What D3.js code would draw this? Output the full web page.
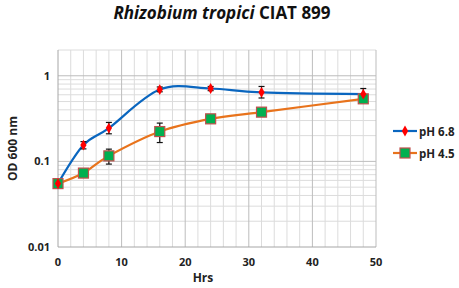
<!DOCTYPE html>
<html>
<head>
<meta charset="utf-8">
<script src="https://cdn.jsdelivr.net/npm/d3@7"></script>
<style>
  body { margin: 0; background: #fff; }
  text { font-family: "Open Sans", "DejaVu Sans", sans-serif; }
</style>
</head>
<body>
<div id="chart"></div>
<script>
// Data
const hours = [0, 4, 8, 16, 24, 32, 48];
const ph68 = [0.055, 0.155, 0.245, 0.69, 0.71, 0.64, 0.61];
const ph68Low = [0.052, 0.14, 0.21, 0.65, 0.67, 0.55, 0.58];
const ph68High = [0.058, 0.17, 0.285, 0.74, 0.75, 0.75, 0.71];
const ph45 = [0.055, 0.073, 0.116, 0.223, 0.314, 0.376, 0.538];
const ph45Low = [0.051, 0.07, 0.093, 0.166, 0.305, 0.35, 0.52];
const ph45High = [0.058, 0.076, 0.139, 0.28, 0.325, 0.41, 0.56];
const xTicks = [0, 10, 20, 30, 40, 50];
const yTicks = [0.01, 0.1, 1];

const width = 459, height = 288;
const margin = { top: 50, right: 83, bottom: 41, left: 58 };

const svg = d3.select("#chart").append("svg")
  .attr("width", width)
  .attr("height", height);

const x = d3.scaleLinear().domain([0, 50]).range([margin.left, width - margin.right]);
const y = d3.scaleLog().domain([0.01, 2]).range([height - margin.bottom, margin.top]);

// Gridlines
const minorX = d3.range(0, 51, 2).filter(d => d % 10 !== 0);
svg.append("g").selectAll("line")
  .data(minorX)
  .join("line")
  .attr("x1", d => x(d)).attr("x2", d => x(d))
  .attr("y1", y(2)).attr("y2", y(0.01))
  .attr("stroke", "#dcdcdc").attr("stroke-width", 1);

const minorY = [];
[0.01, 0.1, 1].forEach(dec => {
  for (let k = 2; k <= 9; k++) {
    if (dec * k <= 2) minorY.push(dec * k);
  }
});
svg.append("g").selectAll("line")
  .data(minorY)
  .join("line")
  .attr("x1", x(0)).attr("x2", x(50))
  .attr("y1", d => y(d)).attr("y2", d => y(d))
  .attr("stroke", "#dcdcdc").attr("stroke-width", 1);

svg.append("g").selectAll("line")
  .data(xTicks.slice(1))
  .join("line")
  .attr("x1", d => x(d)).attr("x2", d => x(d))
  .attr("y1", y(2)).attr("y2", y(0.01))
  .attr("stroke", "#bdbdbd").attr("stroke-width", 1);

svg.append("g").selectAll("line")
  .data(yTicks.slice(1))
  .join("line")
  .attr("x1", x(0)).attr("x2", x(50))
  .attr("y1", d => y(d)).attr("y2", d => y(d))
  .attr("stroke", "#bdbdbd").attr("stroke-width", 1);

// Axes lines
svg.append("line")
  .attr("x1", x(0)).attr("x2", x(0))
  .attr("y1", y(2)).attr("y2", y(0.01))
  .attr("stroke", "#a6a6a6");
svg.append("line")
  .attr("x1", x(0)).attr("x2", x(50))
  .attr("y1", y(0.01)).attr("y2", y(0.01))
  .attr("stroke", "#a6a6a6");

// Tick labels
svg.append("g").selectAll("text")
  .data(xTicks)
  .join("text")
  .attr("x", d => x(d))
  .attr("y", height - margin.bottom + 19)
  .attr("text-anchor", "middle")
  .attr("font-size", 11)
  .attr("font-weight", "bold")
  .attr("fill", "#222")
  .text(d => d);

svg.append("g").selectAll("text")
  .data(yTicks)
  .join("text")
  .attr("x", x(0) - 8)
  .attr("y", d => y(d) + 4)
  .attr("text-anchor", "end")
  .attr("font-size", 11)
  .attr("font-weight", "bold")
  .attr("fill", "#222")
  .text(d => d);

// Axis titles
svg.append("text")
  .attr("x", 203).attr("y", 282)
  .attr("text-anchor", "middle")
  .attr("font-size", 12)
  .attr("font-weight", "bold")
  .attr("fill", "#222")
  .text("Hrs");

svg.append("text")
  .attr("transform", `translate(17,${(y(2) + y(0.01)) / 2}) rotate(-90)`)
  .attr("text-anchor", "middle")
  .attr("font-size", 12)
  .attr("font-weight", "bold")
  .attr("fill", "#222")
  .text("OD 600 nm");

// Title
const title = svg.append("text")
  .attr("x", 222).attr("y", 19)
  .attr("text-anchor", "middle")
  .attr("font-size", 17)
  .attr("font-weight", "bold")
  .attr("fill", "#111");
title.append("tspan").attr("font-style", "italic").text("Rhizobium tropici");
title.append("tspan").text(" CIAT 899");

// Series
const series = [
  { name: "pH 6.8", values: ph68, low: ph68Low, high: ph68High, color: "#0a66bf", marker: "diamond" },
  { name: "pH 4.5", values: ph45, low: ph45Low, high: ph45High, color: "#e8731c", marker: "square" }
];

const line = d3.line()
  .x((d, i) => x(hours[i]))
  .y(d => y(d))
  .curve(d3.curveCatmullRom.alpha(0));

const diamond = d3.symbol().type(d3.symbolDiamond).size(34);

function drawMarker(g, s, cx, cy) {
  if (s.marker === "diamond") {
    g.append("path")
      .attr("d", diamond())
      .attr("transform", `translate(${cx},${cy})`)
      .attr("fill", "#ff0000");
  } else {
    g.append("rect")
      .attr("x", cx - 5).attr("y", cy - 5)
      .attr("width", 10).attr("height", 10)
      .attr("fill", "#00b050")
      .attr("stroke", "#c0504d")
      .attr("stroke-width", 1.2);
  }
}

// lines first
series.forEach(s => {
  svg.append("path")
    .datum(s.values)
    .attr("fill", "none")
    .attr("stroke", s.color)
    .attr("stroke-width", 2.2)
    .attr("d", line);
});

// error bars and markers
series.slice().reverse().forEach(s => {
  const g = svg.append("g");
  s.values.forEach((v, i) => {
    const cx = x(hours[i]);
    g.append("line")
      .attr("x1", cx).attr("x2", cx)
      .attr("y1", y(s.low[i])).attr("y2", y(s.high[i]))
      .attr("stroke", "#111").attr("stroke-width", 1.2);
    [s.low[i], s.high[i]].forEach(e => {
      g.append("line")
        .attr("x1", cx - 3).attr("x2", cx + 3)
        .attr("y1", y(e)).attr("y2", y(e))
        .attr("stroke", "#111").attr("stroke-width", 1.2);
    });
  });
});
series.slice().reverse().forEach(s => {
  const g = svg.append("g");
  s.values.forEach((v, i) => drawMarker(g, s, x(hours[i]), y(v)));
});

// Legend
series.forEach((s, i) => {
  const ly = 131 + i * 22;
  const g = svg.append("g");
  g.append("line")
    .attr("x1", 393).attr("x2", 417)
    .attr("y1", ly).attr("y2", ly)
    .attr("stroke", s.color).attr("stroke-width", 2.2);
  drawMarker(g, s, 405, ly);
  g.append("text")
    .attr("x", 419).attr("y", ly + 4.5)
    .attr("font-size", 11.5)
    .attr("font-weight", "bold")
    .attr("fill", "#222")
    .text(s.name);
});
</script>
</body>
</html>
